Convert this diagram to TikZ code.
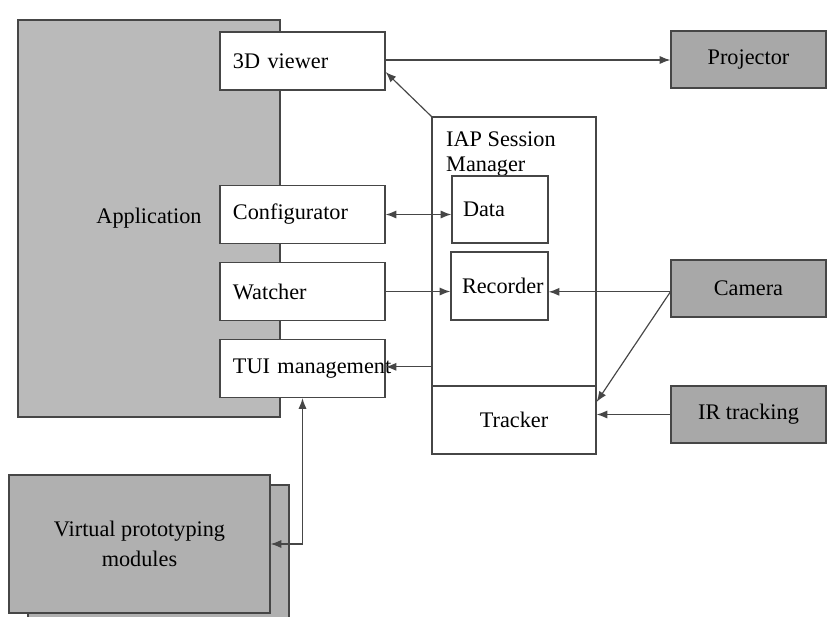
\documentclass[tikz,border=0pt]{standalone}
\usepackage{fontspec}
\setmainfont{Liberation Serif}
\usepackage{tikz}
\usetikzlibrary{arrows.meta, positioning}
\definecolor{appgray}{RGB}{186,186,186}
\definecolor{devgray}{RGB}{168,168,168}
\definecolor{modgray}{RGB}{176,176,176}
\definecolor{edge}{RGB}{70,70,70}

\begin{document}
\begin{tikzpicture}[
    x=0.03cm, y=-0.03cm,
    font=\fontsize{19}{23}\selectfont,
    box/.style={rectangle, draw=edge, line width=1pt, inner sep=0pt},
    sidebox/.style={box, fill=white, text width=4.17cm, align=left,
                    inner xsep=0.39cm, minimum height=1.74cm},
    subbox/.style={box, fill=white, align=left, inner xsep=0.33cm},
    devbox/.style={box, fill=devgray, minimum width=4.65cm, minimum height=1.71cm},
    arrow/.style={-{Latex[length=3.2mm, width=2.4mm]}, line width=1pt, draw=edge},
    darrow/.style={{Latex[length=3.2mm, width=2.4mm]}-{Latex[length=3.2mm, width=2.4mm]},
                   line width=1pt, draw=edge}
]
\useasboundingbox (0,0) rectangle (830,617);
\clip (0,0) rectangle (830,617);

% application side
\node[box, fill=appgray, minimum width=7.86cm, minimum height=11.91cm] (app) at (149,218.5) {Application};
\node[sidebox] (viewer) at (302.5,61) {3D viewer};
\node[sidebox] (config) at (302.5,214.5) {Configurator};
\node[sidebox] (watcher) at (302.5,291.5) {Watcher};
\node[sidebox] (tui) at (302.5,368.5) {\mbox{TUI management}};

% prototyping modules (stacked)
\node[box, fill=modgray, minimum width=7.83cm, minimum height=4.14cm] (vpback) at (158.5,554) {};
\node[box, fill=modgray, minimum width=7.83cm, minimum height=4.14cm, align=center] (vp) at (139.5,544)
    {Virtual prototyping\\[2pt]modules};

% session manager
\node[box, minimum width=4.92cm, minimum height=10.11cm] (iap) at (514,285.5) {};
\node[box, minimum width=4.92cm, minimum height=2.04cm] (tracker) at (514,420) {Tracker};
\node[anchor=north west, align=left, inner sep=0pt] (iaplbl) at (446,132) {IAP Session\\[-2pt]Manager};
\node[subbox, text width=2.22cm, minimum height=2.01cm] (data) at (500,209.5) {Data};
\node[subbox, text width=2.25cm, minimum height=2.04cm] (recorder) at (499.5,286) {Recorder};

% devices
\node[devbox] (projector) at (748.5,59.5) {Projector};
\node[devbox] (camera) at (748.5,288.5) {Camera};
\node[devbox] (irtrack) at (748.5,414.5) {IR tracking};

% connections
\draw[arrow] ([yshift=0.03cm]viewer.east) -- ([yshift=0.03cm]viewer.east -| projector.west);
\draw[arrow] (iap.north west) -- ([yshift=-0.33cm]viewer.east);
\draw[darrow] (config.east) -- (config.east -| data.west);
\draw[arrow] (watcher.east) -- (watcher.east -| recorder.west);
\draw[arrow] ([yshift=-0.1cm]camera.west) -- ([yshift=-0.1cm]camera.west -| recorder.east);
\draw[arrow] ([yshift=-0.1cm]camera.west) -- ([yshift=0.54cm]tracker.east);
\draw[arrow] (irtrack.west) -- (irtrack.west -| tracker.east);
\draw[arrow] ([yshift=0.05cm]tui.east -| iap.west) -- ([yshift=0.05cm]tui.east);
\draw[darrow] (tui.south) |- (vp.east);
\end{tikzpicture}
\end{document}
